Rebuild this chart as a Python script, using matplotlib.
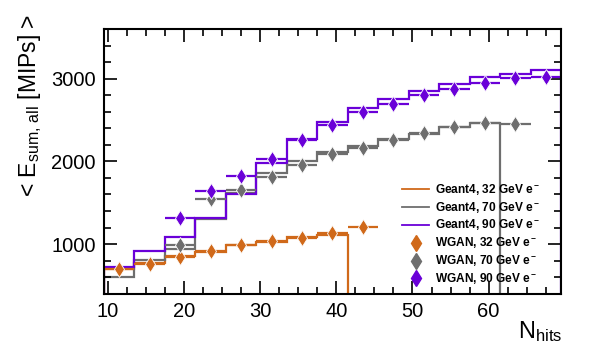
import numpy as np
import matplotlib
matplotlib.use('Agg')
import matplotlib.pyplot as plt

plt.rcParams['font.family'] = ['Liberation Sans', 'DejaVu Sans']
plt.rcParams['mathtext.fontset'] = 'custom'
plt.rcParams['mathtext.rm'] = 'Liberation Sans'
plt.rcParams['mathtext.it'] = 'Liberation Sans'
plt.rcParams['mathtext.bf'] = 'Liberation Sans:bold'
plt.rcParams['mathtext.default'] = 'regular'

# Data
bin_edges = [9.5, 13.5, 17.5, 21.5, 25.5, 29.5, 33.5, 37.5, 41.5, 45.5,
             49.5, 53.5, 57.5, 61.5, 65.5, 69.5]

geant4_32 = [699, 771, 851, 903, 983, 1031, 1080, 1105, 0, 0, 0, 0, 0, 0, 0]
geant4_70 = [598, 802, 940, 1300, 1622, 1856, 2000, 2108, 2184, 2269, 2329,
             2410, 2458, 0, 0]
geant4_90 = [723, 919, 1088, 1317, 1602, 1976, 2269, 2477, 2639, 2751, 2851,
             2940, 3020, 3061, 3100]

wgan_32_x = [11.5, 15.5, 19.5, 23.5, 27.5, 31.5, 35.5, 39.5, 43.5]
wgan_32 = [700, 763, 843, 919, 985, 1040, 1075, 1136, 1208]
wgan_70_x = [19.5, 23.5, 27.5, 31.5, 35.5, 39.5, 43.5, 47.5, 51.5, 55.5, 59.5, 63.5]
wgan_70 = [990, 1546, 1651, 1815, 1955, 2088, 2160, 2257, 2345, 2417, 2458, 2446]
wgan_90_x = [19.5, 23.5, 27.5, 31.5, 35.5, 39.5, 43.5, 47.5, 51.5, 55.5, 59.5, 63.5, 67.5]
wgan_90 = [1321, 1642, 1823, 2024, 2257, 2437, 2591, 2699, 2799, 2880, 2952, 3012, 3020]

c_orange = '#d0691a'
c_gray = '#6e6e6e'
c_purple = '#6a00d8'

fig = plt.figure(figsize=(6.10, 3.59), dpi=100)
ax = fig.add_axes([104 / 610, 1 - 293.7 / 359, 457 / 610, 264.7 / 359])

# Geant4 histograms
ax.stairs(geant4_32, bin_edges, color=c_orange, lw=1.6)
ax.stairs(geant4_70, bin_edges, color=c_gray, lw=1.6)
ax.stairs(geant4_90, bin_edges, color=c_purple, lw=1.6)

# WGAN points with horizontal bin-width error bars
for xs, ys, c in [(wgan_32_x, wgan_32, c_orange),
                  (wgan_70_x, wgan_70, c_gray),
                  (wgan_90_x, wgan_90, c_purple)]:
    ax.errorbar(xs, ys, xerr=2, fmt='d', color=c, ms=8.5, mec='white', mew=0.6,
                elinewidth=1.6, capsize=0)

ax.set_xlim(9.5, 69.5)
ax.set_ylim(400, 3600)
ax.set_xticks([10, 20, 30, 40, 50, 60])
ax.set_yticks([1000, 2000, 3000])
ax.set_xticks(np.arange(10, 69.5, 2.5), minor=True)
ax.set_yticks(np.arange(400, 3601, 200), minor=True)
ax.tick_params(which='both', direction='in', top=True, right=True,
               labelsize=14.5, width=1.2)
ax.tick_params(which='major', length=9.5, pad=6)
ax.tick_params(which='minor', length=5)
for s in ax.spines.values():
    s.set_linewidth(1.5)

fig.text(30 / 610, 1 - 14 / 359, r'< E$_{\mathrm{sum,\,all}}$ [MIPs] >',
         rotation=90, ha='center', va='top', fontsize=16.5)
fig.text(562 / 610, 1 - 332 / 359, r'N$_{\mathrm{hits}}$', ha='right',
         va='center', fontsize=17)

# legend, drawn by hand in axes fraction
labels = ['Geant4, 32 GeV e$^{\\bf -}$', 'Geant4, 70 GeV e$^{\\bf -}$',
          'Geant4, 90 GeV e$^{\\bf -}$', 'WGAN, 32 GeV e$^{\\bf -}$',
          'WGAN, 70 GeV e$^{\\bf -}$', 'WGAN, 90 GeV e$^{\\bf -}$']
colors = [c_orange, c_gray, c_purple, c_orange, c_gray, c_purple]
row0 = (293.7 - 189.3) / 264.7
dy = 17.8 / 264.7
x0, x1, xt = (402 - 104) / 457, (429 - 104) / 457, (435 - 104) / 457
for i, (lab, c) in enumerate(zip(labels, colors)):
    y = row0 - i * dy
    if i < 3:
        ax.plot([x0, x1], [y, y], color=c, lw=1.3, transform=ax.transAxes,
                clip_on=False)
    else:
        ax.plot([(x0 + x1) / 2], [y], 'd', color=c, ms=8,
                transform=ax.transAxes, clip_on=False)
    ax.text(xt, y, lab, transform=ax.transAxes, fontsize=8.6, fontweight='bold',
            va='center', ha='left')

fig.savefig('out.png', dpi=100)
